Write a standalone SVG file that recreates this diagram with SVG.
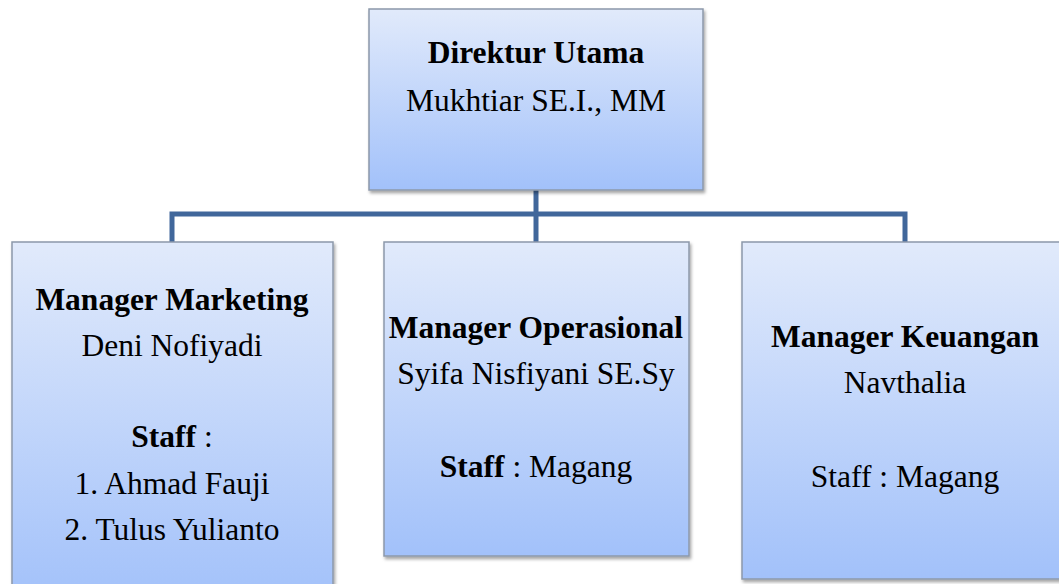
<svg xmlns="http://www.w3.org/2000/svg" width="1059" height="584" viewBox="0 0 1059 584">
<defs>
<linearGradient id="g" x1="0" y1="0" x2="0" y2="1">
<stop offset="0" stop-color="#e1eafb"/>
<stop offset="1" stop-color="#a2c1fa"/>
</linearGradient>
<filter id="sh" x="-10%" y="-10%" width="120%" height="120%">
<feDropShadow dx="1.5" dy="2.5" stdDeviation="1.5" flood-color="#000" flood-opacity="0.35"/>
</filter>
</defs>
<style>
.box{fill:url(#g);stroke:#8c98aa;stroke-width:1.5;filter:url(#sh)}
.conn{fill:none;stroke:#41679b;stroke-width:5;stroke-linejoin:miter}
text{font-size:31.5px;fill:#000;text-anchor:middle}
.b{font-weight:bold}
</style>
<g id="connectors">
<path class="conn" d="M536,190 V214"/>
<path class="conn" d="M172,242 V214 H905 V242"/>
<path class="conn" d="M536,214 V242"/>
</g>
<g font-family="'Liberation Serif', 'DejaVu Serif', serif">
<g id="direktur">
<rect class="box" x="369" y="9" width="334" height="181"/>
<text x="536" y="63" class="b">Direktur Utama</text>
<text x="536" y="111">Mukhtiar SE.I., MM</text>
</g>
<g id="marketing">
<rect class="box" x="12" y="242" width="321" height="360"/>
<text x="172" y="310" class="b">Manager Marketing</text>
<text x="172" y="356">Deni Nofiyadi</text>
<text x="172" y="447"><tspan class="b">Staff</tspan> :</text>
<text x="172" y="494">1. Ahmad Fauji</text>
<text x="172" y="540">2. Tulus Yulianto</text>
</g>
<g id="operasional">
<rect class="box" x="384" y="242" width="305" height="314"/>
<text x="536" y="338" class="b">Manager Operasional</text>
<text x="536" y="384">Syifa Nisfiyani SE.Sy</text>
<text x="536" y="477"><tspan class="b">Staff</tspan> : Magang</text>
</g>
<g id="keuangan">
<rect class="box" x="742" y="242" width="330" height="337"/>
<text x="905" y="347" class="b">Manager Keuangan</text>
<text x="905" y="393">Navthalia</text>
<text x="905" y="487">Staff : Magang</text>
</g>
</g>
</svg>
